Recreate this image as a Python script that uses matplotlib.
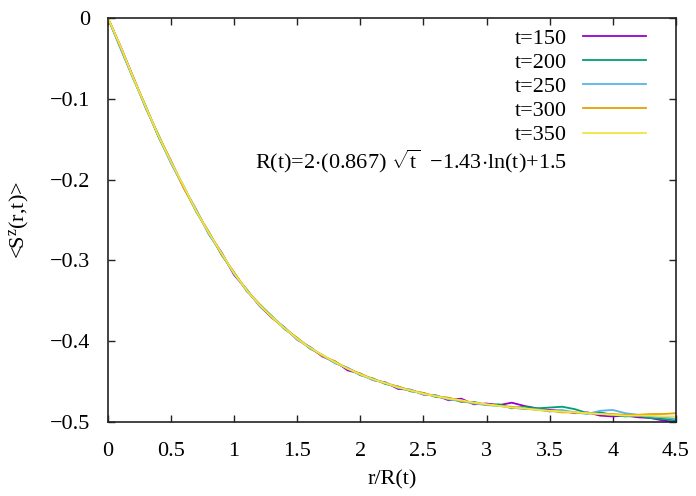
import matplotlib
matplotlib.use("Agg")
import matplotlib.pyplot as plt
import numpy as np

plt.rcParams['font.family'] = ['Liberation Serif', 'DejaVu Serif']
plt.rcParams['mathtext.fontset'] = 'custom'
plt.rcParams['mathtext.rm'] = 'Liberation Serif'
plt.rcParams['mathtext.it'] = 'Liberation Serif:italic'
plt.rcParams['axes.unicode_minus'] = True

x = [round(0.1 * i, 1) for i in range(46)]

s150 = [0, -0.035, -0.073, -0.111, -0.146, -0.177, -0.210, -0.238, -0.267, -0.290,
        -0.318, -0.336, -0.356, -0.371, -0.383, -0.398, -0.407, -0.419, -0.425, -0.436,
        -0.440, -0.448, -0.451, -0.459, -0.460, -0.466, -0.467, -0.473, -0.471, -0.478,
        -0.477, -0.479, -0.476, -0.480, -0.483, -0.485, -0.486, -0.489, -0.488, -0.492,
        -0.493, -0.492, -0.494, -0.495, -0.498, -0.500]
s200 = [0, -0.037, -0.075, -0.109, -0.147, -0.179, -0.208, -0.240, -0.265, -0.293,
        -0.315, -0.338, -0.354, -0.369, -0.385, -0.396, -0.409, -0.417, -0.427, -0.433,
        -0.442, -0.446, -0.453, -0.456, -0.462, -0.464, -0.469, -0.470, -0.475, -0.475,
        -0.479, -0.478, -0.483, -0.481, -0.483, -0.482, -0.481, -0.484, -0.489, -0.488,
        -0.491, -0.493, -0.492, -0.495, -0.496, -0.498]
s250 = [0, -0.038, -0.074, -0.112, -0.144, -0.180, -0.209, -0.237, -0.268, -0.291,
        -0.317, -0.336, -0.356, -0.370, -0.383, -0.398, -0.407, -0.418, -0.427, -0.433,
        -0.441, -0.448, -0.451, -0.458, -0.460, -0.466, -0.467, -0.472, -0.474, -0.477,
        -0.479, -0.480, -0.482, -0.484, -0.484, -0.487, -0.485, -0.488, -0.490, -0.486,
        -0.485, -0.489, -0.491, -0.493, -0.494, -0.496]
s300 = [0, -0.036, -0.073, -0.110, -0.145, -0.177, -0.210, -0.239, -0.265, -0.292,
        -0.315, -0.337, -0.354, -0.371, -0.384, -0.396, -0.408, -0.418, -0.425, -0.434,
        -0.440, -0.447, -0.452, -0.456, -0.461, -0.464, -0.468, -0.470, -0.474, -0.476,
        -0.478, -0.480, -0.481, -0.483, -0.485, -0.486, -0.488, -0.488, -0.489, -0.490,
        -0.490, -0.491, -0.491, -0.490, -0.490, -0.489]
s350 = [0, -0.035, -0.074, -0.110, -0.146, -0.178, -0.208, -0.239, -0.266, -0.291,
        -0.316, -0.337, -0.355, -0.370, -0.384, -0.397, -0.408, -0.417, -0.426, -0.434,
        -0.441, -0.447, -0.452, -0.457, -0.461, -0.465, -0.468, -0.471, -0.473, -0.476,
        -0.478, -0.480, -0.482, -0.483, -0.485, -0.486, -0.487, -0.488, -0.489, -0.490,
        -0.491, -0.492, -0.492, -0.492, -0.493, -0.493]

series = [s150, s200, s250, s300, s350]
labels = ['t=150', 't=200', 't=250', 't=300', 't=350']
colors = ['#9400d3', '#009e73', '#56b4e9', '#e69f00', '#f0e442']

xticks = [0, 0.5, 1, 1.5, 2, 2.5, 3, 3.5, 4, 4.5]
xticklabels = ['0', '0.5', '1', '1.5', '2', '2.5', '3', '3.5', '4', '4.5']
yticks = [-0.5, -0.4, -0.3, -0.2, -0.1, 0]
yticklabels = ['\u22120.5', '\u22120.4', '\u22120.3', '\u22120.2', '\u22120.1', '0']

FS = 16

fig = plt.figure(figsize=(6.96, 4.96), dpi=100)
ax = fig.add_axes([0.155, 0.149, 0.816, 0.815])

for s, lab, c in zip(series, labels, colors):
    ax.plot(x, s, color=c, lw=1.3, label=lab)

ax.set_xlim(0, 4.5)
ax.set_ylim(-0.5, 0)
ax.set_xticks(xticks)
ax.set_xticklabels(xticklabels)
ax.set_yticks(yticks)
ax.set_yticklabels(yticklabels)
ax.tick_params(axis='x', direction='in', length=5, width=1, top=True,
               labelsize=FS, pad=14, colors='#222222', labelcolor='black')
ax.tick_params(axis='y', direction='in', length=5, width=1, right=True,
               labelsize=FS, pad=13, colors='#222222', labelcolor='black')
for sp in ax.spines.values():
    sp.set_linewidth(1.2)
    sp.set_color('#222222')

ax.set_xlabel('r/R(t)', fontsize=FS, labelpad=7)
ax.set_ylabel(r'<S$^{\mathrm{z}}$(r,t)>', fontsize=FS, labelpad=13)

leg = ax.legend(loc='upper right', bbox_to_anchor=(0.963, 0.997), frameon=False,
                markerfirst=False, fontsize=FS, handlelength=2.85, handletextpad=0.7,
                labelspacing=0.165, borderaxespad=0)
for t in leg.get_texts():
    t.set_ha('right')

ax.text(0.808, 0.646, r'R(t)=2$\cdot$(0.867) $\sqrt{\mathrm{t}}$  $-$1.43$\cdot$ln(t)+1.5',
        transform=ax.transAxes, ha='right', va='center', fontsize=FS)

fig.savefig('out.png', dpi=100)
